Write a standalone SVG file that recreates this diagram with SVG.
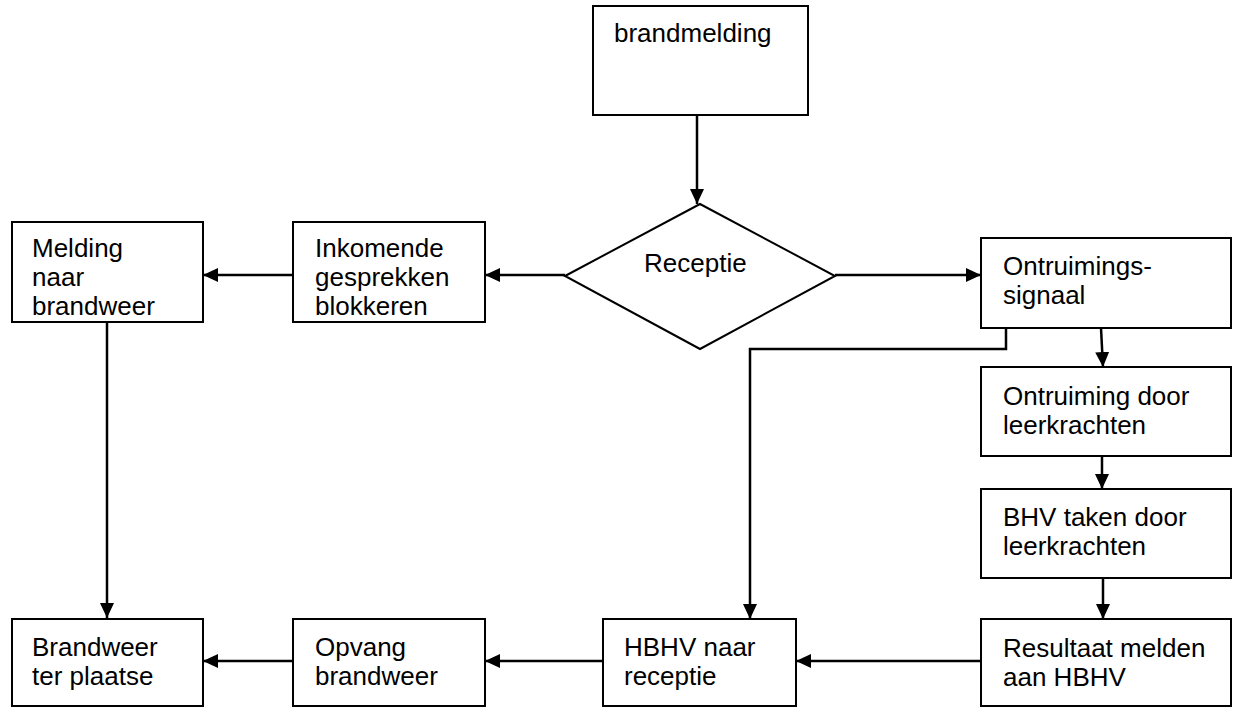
<svg xmlns="http://www.w3.org/2000/svg" width="1240" height="708" viewBox="0 0 1240 708">
<style>
.box{fill:#fff;stroke:#000;stroke-width:2}
.t{font-family:"Liberation Sans",Arial,sans-serif;font-size:26px;fill:#000}
.c{fill:none;stroke:#000;stroke-width:2.5}
</style>
<defs>
<marker id="ah" markerUnits="userSpaceOnUse" markerWidth="16" markerHeight="16" refX="15" refY="7" orient="auto">
<path d="M0,0 L15,7 L0,14 z" fill="#000"/>
</marker>
</defs>
<rect width="1240" height="708" fill="#fff"/>
<g id="connectors">
<path class="c" d="M697,115 V204" marker-end="url(#ah)"/>
<path class="c" d="M565,275 H485" marker-end="url(#ah)"/>
<path class="c" d="M293,275 H203" marker-end="url(#ah)"/>
<path class="c" d="M835,275 H981" marker-end="url(#ah)"/>
<path class="c" d="M1006,328 V349 H750 V619" marker-end="url(#ah)"/>
<path class="c" d="M1101,328 L1103,367" marker-end="url(#ah)"/>
<path class="c" d="M1102,456 V489" marker-end="url(#ah)"/>
<path class="c" d="M1103,578 V619" marker-end="url(#ah)"/>
<path class="c" d="M981,661 H796" marker-end="url(#ah)"/>
<path class="c" d="M603,661 H485" marker-end="url(#ah)"/>
<path class="c" d="M293,661 H203" marker-end="url(#ah)"/>
<path class="c" d="M107,322 V618" marker-end="url(#ah)"/>
</g>
<g id="brandmelding">
<rect class="box" x="593" y="6" width="215" height="109"/>
<text class="t" x="614" y="42">brandmelding</text>
</g>
<g id="receptie">
<polygon class="box" points="565,276 700,204 835,276 700,349"/>
<text class="t" x="644" y="272">Receptie</text>
</g>
<g id="melding">
<rect class="box" x="12" y="222" width="191" height="100"/>
<text class="t" x="32" y="257">Melding</text>
<text class="t" x="32" y="286">naar</text>
<text class="t" x="32" y="315">brandweer</text>
</g>
<g id="inkomende">
<rect class="box" x="293" y="222" width="192" height="100"/>
<text class="t" x="315" y="257">Inkomende</text>
<text class="t" x="315" y="286">gesprekken</text>
<text class="t" x="315" y="315">blokkeren</text>
</g>
<g id="ontruimingssignaal">
<rect class="box" x="981" y="238" width="250" height="90"/>
<text class="t" x="1003" y="275">Ontruimings-</text>
<text class="t" x="1003" y="304">signaal</text>
</g>
<g id="ontruiming">
<rect class="box" x="981" y="367" width="250" height="89"/>
<text class="t" x="1003" y="405">Ontruiming door</text>
<text class="t" x="1003" y="434">leerkrachten</text>
</g>
<g id="bhv">
<rect class="box" x="981" y="489" width="250" height="89"/>
<text class="t" x="1003" y="526">BHV taken door</text>
<text class="t" x="1003" y="555">leerkrachten</text>
</g>
<g id="resultaat">
<rect class="box" x="981" y="619" width="250" height="87"/>
<text class="t" x="1003" y="657">Resultaat melden</text>
<text class="t" x="1003" y="686">aan HBHV</text>
</g>
<g id="hbhv">
<rect class="box" x="603" y="619" width="193" height="87"/>
<text class="t" x="624" y="656">HBHV naar</text>
<text class="t" x="624" y="685">receptie</text>
</g>
<g id="opvang">
<rect class="box" x="293" y="619" width="192" height="87"/>
<text class="t" x="315" y="656">Opvang</text>
<text class="t" x="315" y="685">brandweer</text>
</g>
<g id="brandweer">
<rect class="box" x="12" y="619" width="191" height="87"/>
<text class="t" x="32" y="656">Brandweer</text>
<text class="t" x="32" y="685">ter plaatse</text>
</g>
</svg>
